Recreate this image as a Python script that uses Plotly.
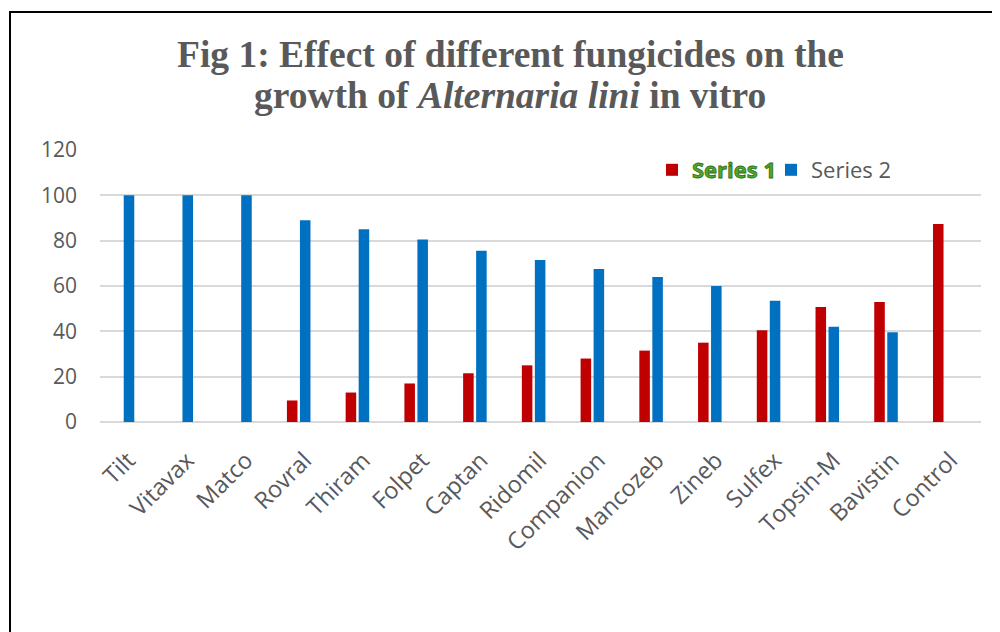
import plotly.graph_objects as go

categories = ["Tilt", "Vitavax", "Matco", "Rovral", "Thiram", "Folpet", "Captan",
              "Ridomil", "Companion", "Mancozeb", "Zineb", "Sulfex", "Topsin-M",
              "Bavistin", "Control"]
series1 = [0, 0, 0, 9.5, 13, 17, 21.5, 25, 28, 31.5, 35, 40.5, 50.7, 52.9, 87.3]
series2 = [100, 100, 100, 89, 85, 80.5, 75.5, 71.5, 67.5, 64, 60, 53.5, 42, 39.6, 0]
y_ticks = [0, 20, 40, 60, 80, 100, 120]

# page has an 8px body margin: work in page pixels and convert
OFF = 8
W, H = 1000 - OFF, 632 - OFF
L, R, T, B = 100 - OFF, 19, 150 - OFF, 210
pw, ph = W - L - R, H - T - B

def px_x(x):
    return (x - OFF - L) / pw

def px_y(y):
    return (H - B - (y - OFF)) / ph

GRAY = "#595959"
FONT = "Open Sans"

fig = go.Figure()
fig.add_trace(go.Bar(
    x=categories, y=series1,
    name="<span style='color:#4EA72E;stroke:#2E6E14;stroke-width:0.8px'><b>Series 1</b></span>",
    marker=dict(color="#C00000", line=dict(width=0)),
))
fig.add_trace(go.Bar(
    x=categories, y=series2, name="Series 2",
    marker=dict(color="#0070C0", line=dict(width=0)),
))

fig.update_layout(
    width=W, height=H,
    margin=dict(l=L, r=R, t=T, b=B, autoexpand=False),
    paper_bgcolor="white", plot_bgcolor="white",
    barmode="group", bargap=0.557, bargroupgap=0.19,
    font=dict(family=FONT, color=GRAY, size=21),
    showlegend=True,
    legend=dict(orientation="h", x=px_x(652), xanchor="left",
                y=px_y(170), yanchor="middle",
                entrywidth=74, entrywidthmode="pixels",
                font=dict(family=FONT, size=22, color=GRAY),
                bgcolor="rgba(0,0,0,0)", traceorder="normal"),
    xaxis=dict(
        type="category", range=[-0.383, 14.617],
        tickangle=-45, showgrid=False, zeroline=False, showline=False,
        ticks="", ticklabelstandoff=19, ticklabelshift=6,
        tickfont=dict(family=FONT, size=23.5, color=GRAY),
        fixedrange=True,
    ),
    yaxis=dict(
        range=[0, 120], tickvals=y_ticks, ticktext=[str(v) for v in y_ticks],
        showgrid=True, gridcolor="#D9D9D9", gridwidth=1.5,
        zeroline=True, zerolinecolor="#D9D9D9", zerolinewidth=2,
        showline=False, ticks="", ticklabelstandoff=22,
        tickfont=dict(family=FONT, size=21, color=GRAY),
        fixedrange=True,
    ),
)

title_font = dict(family="Liberation Serif", size=37.5, color=GRAY)
fig.add_annotation(
    text="<b>Fig 1: Effect of different fungicides on the</b>",
    xref="paper", yref="paper", x=px_x(510), y=px_y(54.5),
    xanchor="center", yanchor="middle", showarrow=False, font=title_font,
)
fig.add_annotation(
    text="<b>growth of <i>Alternaria lini</i> in vitro</b>",
    xref="paper", yref="paper", x=px_x(510), y=px_y(95.5),
    xanchor="center", yanchor="middle", showarrow=False, font=title_font,
)

# outer frame (extends beyond right and bottom edges)
fig.add_shape(
    type="rect", xref="paper", yref="paper",
    x0=px_x(10), x1=px_x(1012), y0=px_y(660), y1=px_y(12),
    line=dict(color="black", width=2), fillcolor="rgba(0,0,0,0)", layer="above",
)

fig.write_html("out.html")
